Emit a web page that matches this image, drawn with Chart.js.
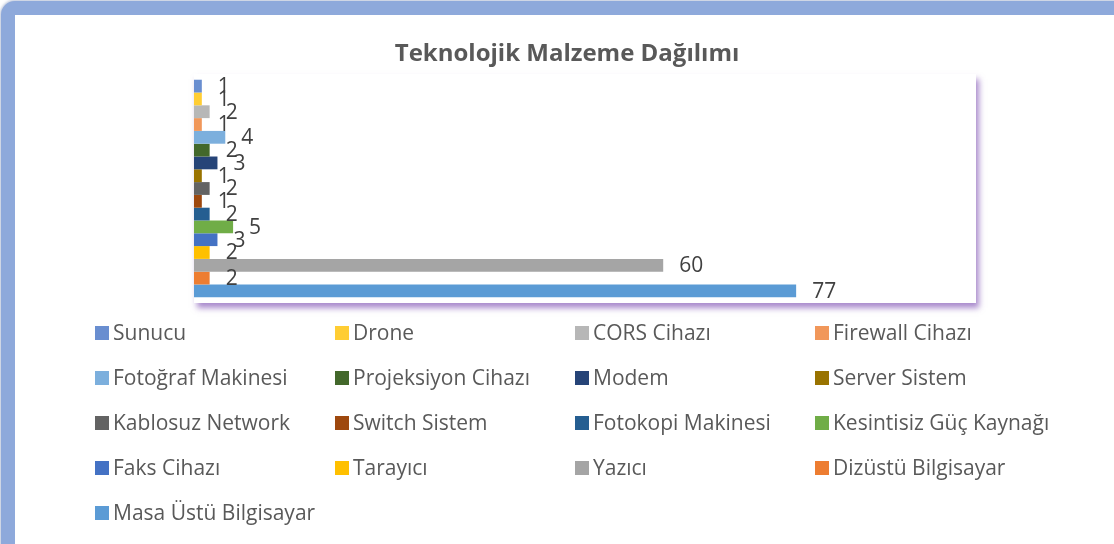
<!DOCTYPE html>
<html>
<head>
<meta charset="utf-8">
<script src="https://cdn.jsdelivr.net/npm/chart.js@4.4.0/dist/chart.umd.min.js"></script>
<style>
  html, body { margin:0; padding:0; background:#ffffff; width:1114px; height:544px; overflow:hidden; }
  .frame { position:absolute; left:1px; top:1px; width:1300px; height:800px; box-sizing:border-box;
           border:14px solid #8EA9DB; border-radius:14px; box-shadow:0 0 3px 1px rgba(150,165,200,0.7); background:#fff; }
  #wrap { position:absolute; left:0; top:0; width:1114px; height:544px; }
  canvas { position:absolute; left:0; top:0; }
</style>
</head>
<body>
<div class="frame"></div>
<div id="wrap"><canvas id="c" width="1114" height="544"></canvas></div>
<script>
const titleText = "Teknolojik Malzeme Dağılımı";
const categories = ["Malzeme"];
const seriesNames = ["Sunucu", "Drone", "CORS Cihazı", "Firewall Cihazı", "Fotoğraf Makinesi", "Projeksiyon Cihazı", "Modem", "Server Sistem", "Kablosuz Network", "Switch Sistem", "Fotokopi Makinesi", "Kesintisiz Güç Kaynağı", "Faks Cihazı", "Tarayıcı", "Yazıcı", "Dizüstü Bilgisayar", "Masa Üstü Bilgisayar"];
const seriesValues = [1, 1, 2, 1, 4, 2, 3, 1, 2, 1, 2, 5, 3, 2, 60, 2, 77];
const seriesColors = ["#698ED0", "#FFCD33", "#B7B7B7", "#F1975A", "#7CAFDD", "#43682B", "#264478", "#997300", "#636363", "#9E480E", "#255E91", "#70AD47", "#4472C4", "#FFC000", "#A5A5A5", "#ED7D31", "#5B9BD5"];
const axisMin = 0, axisMax = 100;

const FONT = "'Open Sans', 'DejaVu Sans', sans-serif";

const plotShadow = {
  id: 'plotShadow',
  beforeDatasetsDraw(chart) {
    const {ctx, chartArea: a} = chart;
    ctx.save();
    ctx.shadowColor = 'rgba(112,60,170,0.6)';
    ctx.shadowBlur = 6;
    ctx.shadowOffsetX = 3;
    ctx.shadowOffsetY = 5;
    ctx.fillStyle = '#ffffff';
    ctx.fillRect(a.left, a.top, a.right - a.left, a.bottom - a.top);
    ctx.restore();
  }
};

const barLabels = {
  id: 'barLabels',
  afterDatasetsDraw(chart) {
    const ctx = chart.ctx;
    ctx.save();
    ctx.font = "21px " + FONT;
    ctx.fillStyle = '#404040';
    ctx.textAlign = 'left';
    ctx.textBaseline = 'middle';
    chart.data.datasets.forEach((ds, i) => {
      const meta = chart.getDatasetMeta(i);
      meta.data.forEach((el, j) => {
        ctx.fillText(String(ds.data[j]), el.x + 16, el.y + 1);
      });
    });
    ctx.restore();
  }
};

const titleAndLegend = {
  id: 'titleAndLegend',
  afterDraw(chart) {
    const ctx = chart.ctx;
    ctx.save();
    ctx.font = "bold 24px " + FONT;
    ctx.fillStyle = '#595959';
    ctx.textAlign = 'center';
    ctx.textBaseline = 'middle';
    ctx.fillText(titleText, 567, 54);

    ctx.font = "21px " + FONT;
    ctx.textAlign = 'left';
    const colX = [95, 335, 575, 815];
    const rowY0 = 333, rowStep = 45;
    chart.data.datasets.forEach((ds, i) => {
      const col = i % 4, row = Math.floor(i / 4);
      const x = colX[col], y = rowY0 + row * rowStep;
      ctx.fillStyle = ds.backgroundColor;
      ctx.fillRect(x, y - 7, 14, 14);
      ctx.fillStyle = '#595959';
      ctx.fillText(ds.label, x + 18, y + 1);
    });
    ctx.restore();
  }
};

const datasets = seriesNames.map((name, i) => ({
  label: name,
  data: [seriesValues[i]],
  backgroundColor: seriesColors[i],
  borderWidth: 0,
  categoryPercentage: 0.95,
  barPercentage: 1.0
}));

new Chart(document.getElementById('c'), {
  type: 'bar',
  data: { labels: categories, datasets },
  options: {
    indexAxis: 'y',
    responsive: false,
    animation: false,
    layout: { padding: { left: 194, top: 74, right: 138, bottom: 241 } },
    scales: {
      x: { display: false, min: axisMin, max: axisMax },
      y: { display: false }
    },
    plugins: {
      legend: { display: false },
      title: { display: false },
      tooltip: { enabled: false }
    }
  },
  plugins: [plotShadow, barLabels, titleAndLegend]
});
</script>
</body>
</html>
